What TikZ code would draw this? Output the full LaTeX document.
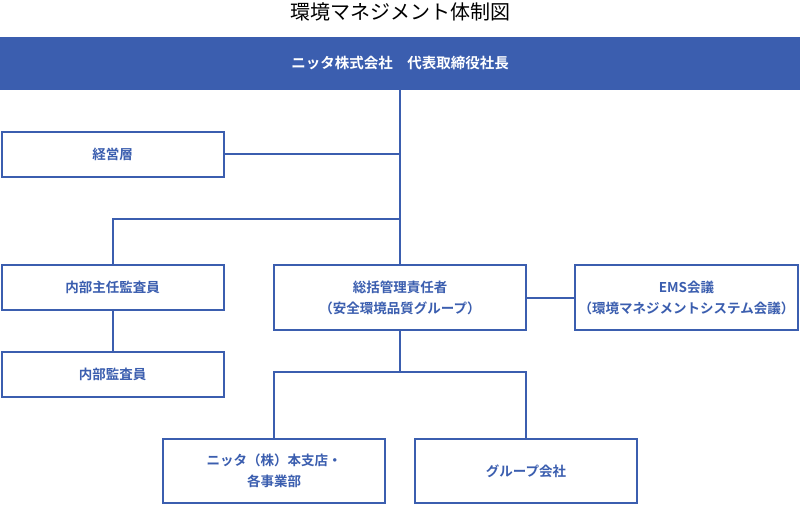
\documentclass[tikz,border=0pt]{standalone}
\usepackage{fontspec}
\newfontfamily\jpfont{Noto Sans CJK JP}[BoldFont={Noto Sans CJK JP Bold}]
\definecolor{emsblue}{HTML}{3B5EAF}
\tikzset{
	orgbox/.style={draw=emsblue, line width=2pt, fill=white, minimum width=222pt, minimum height=45pt, inner sep=0pt, align=center, text=emsblue, font=\jpfont\bfseries\fontsize{13.5}{21}\selectfont},
	link/.style={draw=emsblue, line width=2pt}
}
\begin{document}
\begin{tikzpicture}[x=1pt, y=-1pt]
			\useasboundingbox (0,0) rectangle (800,505);
			
			\node[font=\jpfont\fontsize{20}{22}\selectfont] (title) at (400,12) {環境マネジメント体制図};
			\node[fill=emsblue, minimum width=800pt, minimum height=53pt, inner sep=0pt, text=white, font=\jpfont\bfseries\fontsize{14.5}{16}\selectfont] (head) at (400,63.5) {ニッタ株式会社　代表取締役社長};
			
			\node[orgbox] (keiei) at (112.5,154.5) {経営層};
			\node[orgbox] (naibuchief) at (112.5,287.5) {内部主任監査員};
			\node[orgbox] (naibu) at (112.5,374.5) {内部監査員};
			
			\node[orgbox, minimum width=252pt, minimum height=65pt] (sokatsu) at (400,297.5) {総括管理責任者\\（安全環境品質グループ）};
			\node[orgbox, minimum width=223pt, minimum height=65pt] (ems) at (686.5,297.5) {EMS会議\\（環境マネジメントシステム会議）};
			
			\node[orgbox, minimum height=64pt] (nitta) at (274,471) {ニッタ（株）本支店・\\各事業部};
			\node[orgbox, minimum height=64pt] (group) at (526,471) {グループ会社};
			
			\coordinate (audit) at (400,219);
			\coordinate (split) at (400,372);
			
			\draw[link] (head.south) -- (sokatsu.north);
			\draw[link] (keiei.east) -- (keiei.east -| head.south);
			\draw[link] (audit) -| (naibuchief.north);
			\draw[link] (naibuchief.south) -- (naibu.north);
			\draw[link] (sokatsu.east) -- (ems.west);
			\draw[link] (sokatsu.south) -- (split);
			\draw[link] (nitta.north) |- (split) -| (group.north);
		\end{tikzpicture}
\end{document}
